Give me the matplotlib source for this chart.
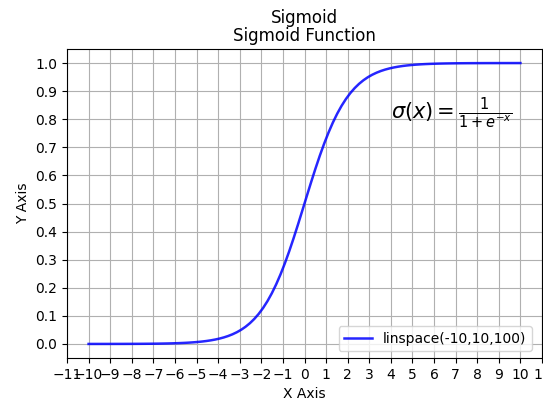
import matplotlib.pyplot as plt
import numpy as np

# sample points and the logistic curve evaluated on them
x_start, x_stop, n_points = -10, 10, 100
x = np.linspace(x_start, x_stop, n_points)
y = 1 / (1 + np.exp(-x))

x_ticks = np.arange(-11, 12, 1)
y_ticks = np.arange(0, 1.01, 0.1)

W, H = 543, 401
fig = plt.figure(figsize=(W / 100, H / 100), dpi=100)
ax = fig.add_axes([67 / W, 43 / H, 475 / W, 309 / H])

ax.plot(x, y, color='blue', linewidth=1.8, alpha=0.85,
        label='linspace(-10,10,100)')
ax.set_xlim(-11, 11)
ax.set_ylim(-0.05, 1.05)
ax.set_xticks(x_ticks)
ax.set_yticks(y_ticks)
ax.grid(True, color='#b0b0b0', linewidth=0.8)

ax.text(4, 0.8, r'$\sigma(x)=\frac{1}{1+e^{-x}}$', fontsize=15)

ax.set_xlabel('X Axis')
ax.set_ylabel('Y Axis')
ax.set_title('Sigmoid Function')
fig.suptitle('Sigmoid', x=304.5 / W, y=1 - 9 / H, fontsize=12)
ax.legend(loc='lower right', bbox_to_anchor=(1 - 3 / 475, 0))

fig.savefig('out.png', dpi=100)
